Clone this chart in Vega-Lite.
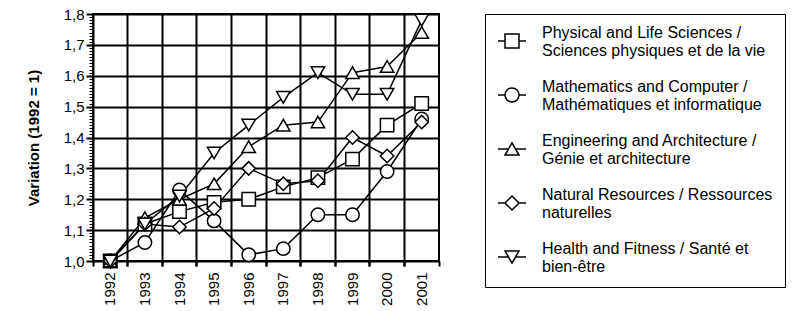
{
  "$schema": "https://vega.github.io/schema/vega-lite/v6.json",
  "width": 346,
  "height": 247,
  "autosize": {"type": "none"},
  "padding": {"left": 93, "top": 14, "right": 362, "bottom": 50},
  "background": "white",
  "config": {
    "font": "Liberation Sans",
    "view": {"stroke": "black", "strokeWidth": 2},
    "axis": {"domain": false, "titleColor": "black", "labelColor": "black", "tickColor": "black", "gridColor": "black", "gridOpacity": 1}
  },
  "data": {
    "values": [
      {"year": 1992, "series": "Physical and Life Sciences / Sciences physiques et de la vie", "value": 1.0},
      {"year": 1993, "series": "Physical and Life Sciences / Sciences physiques et de la vie", "value": 1.12},
      {"year": 1994, "series": "Physical and Life Sciences / Sciences physiques et de la vie", "value": 1.16},
      {"year": 1995, "series": "Physical and Life Sciences / Sciences physiques et de la vie", "value": 1.19},
      {"year": 1996, "series": "Physical and Life Sciences / Sciences physiques et de la vie", "value": 1.2},
      {"year": 1997, "series": "Physical and Life Sciences / Sciences physiques et de la vie", "value": 1.24},
      {"year": 1998, "series": "Physical and Life Sciences / Sciences physiques et de la vie", "value": 1.27},
      {"year": 1999, "series": "Physical and Life Sciences / Sciences physiques et de la vie", "value": 1.33},
      {"year": 2000, "series": "Physical and Life Sciences / Sciences physiques et de la vie", "value": 1.44},
      {"year": 2001, "series": "Physical and Life Sciences / Sciences physiques et de la vie", "value": 1.51},
      {"year": 1992, "series": "Mathematics and Computer / Mathématiques et informatique", "value": 1.0},
      {"year": 1993, "series": "Mathematics and Computer / Mathématiques et informatique", "value": 1.06},
      {"year": 1994, "series": "Mathematics and Computer / Mathématiques et informatique", "value": 1.23},
      {"year": 1995, "series": "Mathematics and Computer / Mathématiques et informatique", "value": 1.13},
      {"year": 1996, "series": "Mathematics and Computer / Mathématiques et informatique", "value": 1.02},
      {"year": 1997, "series": "Mathematics and Computer / Mathématiques et informatique", "value": 1.04},
      {"year": 1998, "series": "Mathematics and Computer / Mathématiques et informatique", "value": 1.15},
      {"year": 1999, "series": "Mathematics and Computer / Mathématiques et informatique", "value": 1.15},
      {"year": 2000, "series": "Mathematics and Computer / Mathématiques et informatique", "value": 1.29},
      {"year": 2001, "series": "Mathematics and Computer / Mathématiques et informatique", "value": 1.46},
      {"year": 1992, "series": "Engineering and Architecture / Génie et architecture", "value": 1.0},
      {"year": 1993, "series": "Engineering and Architecture / Génie et architecture", "value": 1.14},
      {"year": 1994, "series": "Engineering and Architecture / Génie et architecture", "value": 1.2},
      {"year": 1995, "series": "Engineering and Architecture / Génie et architecture", "value": 1.25},
      {"year": 1996, "series": "Engineering and Architecture / Génie et architecture", "value": 1.37},
      {"year": 1997, "series": "Engineering and Architecture / Génie et architecture", "value": 1.44},
      {"year": 1998, "series": "Engineering and Architecture / Génie et architecture", "value": 1.45},
      {"year": 1999, "series": "Engineering and Architecture / Génie et architecture", "value": 1.61},
      {"year": 2000, "series": "Engineering and Architecture / Génie et architecture", "value": 1.63},
      {"year": 2001, "series": "Engineering and Architecture / Génie et architecture", "value": 1.74},
      {"year": 1992, "series": "Natural Resources / Ressources naturelles", "value": 1.0},
      {"year": 1993, "series": "Natural Resources / Ressources naturelles", "value": 1.12},
      {"year": 1994, "series": "Natural Resources / Ressources naturelles", "value": 1.11},
      {"year": 1995, "series": "Natural Resources / Ressources naturelles", "value": 1.17},
      {"year": 1996, "series": "Natural Resources / Ressources naturelles", "value": 1.3},
      {"year": 1997, "series": "Natural Resources / Ressources naturelles", "value": 1.25},
      {"year": 1998, "series": "Natural Resources / Ressources naturelles", "value": 1.26},
      {"year": 1999, "series": "Natural Resources / Ressources naturelles", "value": 1.4},
      {"year": 2000, "series": "Natural Resources / Ressources naturelles", "value": 1.34},
      {"year": 2001, "series": "Natural Resources / Ressources naturelles", "value": 1.45},
      {"year": 1992, "series": "Health and Fitness / Santé et bien-être", "value": 1.0},
      {"year": 1993, "series": "Health and Fitness / Santé et bien-être", "value": 1.12},
      {"year": 1994, "series": "Health and Fitness / Santé et bien-être", "value": 1.21},
      {"year": 1995, "series": "Health and Fitness / Santé et bien-être", "value": 1.35},
      {"year": 1996, "series": "Health and Fitness / Santé et bien-être", "value": 1.44},
      {"year": 1997, "series": "Health and Fitness / Santé et bien-être", "value": 1.53},
      {"year": 1998, "series": "Health and Fitness / Santé et bien-être", "value": 1.61},
      {"year": 1999, "series": "Health and Fitness / Santé et bien-être", "value": 1.54},
      {"year": 2000, "series": "Health and Fitness / Santé et bien-être", "value": 1.54},
      {"year": 2001, "series": "Health and Fitness / Santé et bien-être", "value": 1.78}
    ]
  },
  "layer": [
    {
      "mark": {"type": "line", "color": "black", "strokeWidth": 1.5},
      "encoding": {
        "x": {
          "field": "year", "type": "ordinal",
          "scale": {"type": "band", "paddingInner": 0, "paddingOuter": 0},
          "axis": {
            "orient": "bottom", "title": null, "bandPosition": 0,
            "labelAngle": -90, "labelFontSize": 15, "labelPadding": 6,
            "grid": true, "gridWidth": 2, "tickSize": 5, "tickWidth": 2
          }
        },
        "y": {
          "field": "value", "type": "quantitative",
          "scale": {"domain": [1.0, 1.8], "zero": false, "nice": false},
          "axis": {
            "orient": "left", "title": "Variation (1992 = 1)", "titleFontSize": 15, "titleFontWeight": "bold",
            "titlePadding": 22,
            "values": [1.0, 1.1, 1.2, 1.3, 1.4, 1.5, 1.6, 1.7, 1.8],
            "labelExpr": "replace(format(datum.value, '.1f'), '.', ',')",
            "labelFontSize": 15, "labelPadding": 2,
            "grid": true, "gridWidth": 2, "tickSize": 7, "tickWidth": 2
          }
        },
        "detail": {"field": "series"}
      }
    },
    {
      "mark": {"type": "point", "fill": "white", "stroke": "black", "strokeWidth": 1.5, "size": 180, "opacity": 1},
      "encoding": {
        "x": {
          "field": "year", "type": "ordinal",
          "axis": {
            "orient": "bottom", "title": null, "bandPosition": 1, "labels": false,
            "grid": false, "tickSize": 5, "tickWidth": 2
          }
        },
        "y": {
          "field": "value", "type": "quantitative",
          "axis": {
            "orient": "left", "title": null, "labels": false,
            "values": [1.0,1.01,1.02,1.03,1.04,1.05,1.06,1.07,1.08,1.09,1.1,1.11,1.12,1.13,1.14,1.15,1.16,1.17,1.18,1.19,1.2,1.21,1.22,1.23,1.24,1.25,1.26,1.27,1.28,1.29,1.3,1.31,1.32,1.33,1.34,1.35,1.36,1.37,1.38,1.39,1.4,1.41,1.42,1.43,1.44,1.45,1.46,1.47,1.48,1.49,1.5,1.51,1.52,1.53,1.54,1.55,1.56,1.57,1.58,1.59,1.6,1.61,1.62,1.63,1.64,1.65,1.66,1.67,1.68,1.69,1.7,1.71,1.72,1.73,1.74,1.75,1.76,1.77,1.78,1.79,1.8],
            "grid": false, "tickSize": 4, "tickWidth": 1
          }
        },
        "shape": {
          "field": "series", "type": "nominal",
          "scale": {
            "domain": [
              "Physical and Life Sciences / Sciences physiques et de la vie",
              "Mathematics and Computer / Mathématiques et informatique",
              "Engineering and Architecture / Génie et architecture",
              "Natural Resources / Ressources naturelles",
              "Health and Fitness / Santé et bien-être"
            ],
            "range": ["square", "circle", "triangle-up", "diamond", "triangle-down"]
          },
          "legend": null
        }
      }
    },
    {
      "transform": [{"filter": "datum.value > 100"}],
      "mark": {"type": "point", "fill": "white", "stroke": "black", "strokeWidth": 1.5, "opacity": 1},
      "encoding": {
        "x": {"field": "year", "type": "ordinal", "axis": null},
        "y": {"field": "value", "type": "quantitative", "axis": null},
        "shape": {
          "field": "series", "type": "nominal",
          "scale": {
            "domain": [
              "Physical and Life Sciences / Sciences physiques et de la vie",
              "Mathematics and Computer / Mathématiques et informatique",
              "Engineering and Architecture / Génie et architecture",
              "Natural Resources / Ressources naturelles",
              "Health and Fitness / Santé et bien-être"
            ],
            "range": [
              "M-1,0H-0.5M0.5,0H1M-0.5,-0.5H0.5V0.5H-0.5Z",
              "M-1,0H-0.5M0.5,0H1M-0.5,0A0.5,0.5 0 1,0 0.5,0A0.5,0.5 0 1,0 -0.5,0Z",
              "M-1,0H-0.25M0.25,0H1M0,-0.43L0.5,0.43H-0.5Z",
              "M-1,0H-0.5M0.5,0H1M0,-0.5L0.5,0L0,0.5L-0.5,0Z",
              "M-1,0H-0.25M0.25,0H1M0,0.43L0.5,-0.43H-0.5Z"
            ]
          },
          "legend": {
            "title": null, "orient": "right", "offset": 46, "padding": 12,
            "strokeColor": "black",
            "symbolSize": 784,
            "labelFontSize": 16, "labelOffset": 15, "labelLimit": 400,
            "labelBaseline": "bottom", "rowPadding": 20, "labelColor": "black",
            "labelExpr": "split(replace(datum.label, regexp('(Sciences /|Computer /|Architecture /|Resources / Ressources|Santé et) '), '$1|'), '|')",
            "encode": {
              "legend": {"update": {"strokeWidth": {"value": 2}}},
              "symbols": {
                "update": {
                  "size": {"value": 784},
                  "fill": {"value": "white"},
                  "stroke": {"value": "black"},
                  "strokeWidth": {"value": 1.5},
                  "opacity": {"value": 1}
                }
              }
            }
          }
        }
      }
    }
  ],
  "resolve": {
    "axis": {"x": "independent", "y": "independent"},
    "scale": {"shape": "independent"},
    "legend": {"shape": "independent"}
  }
}
